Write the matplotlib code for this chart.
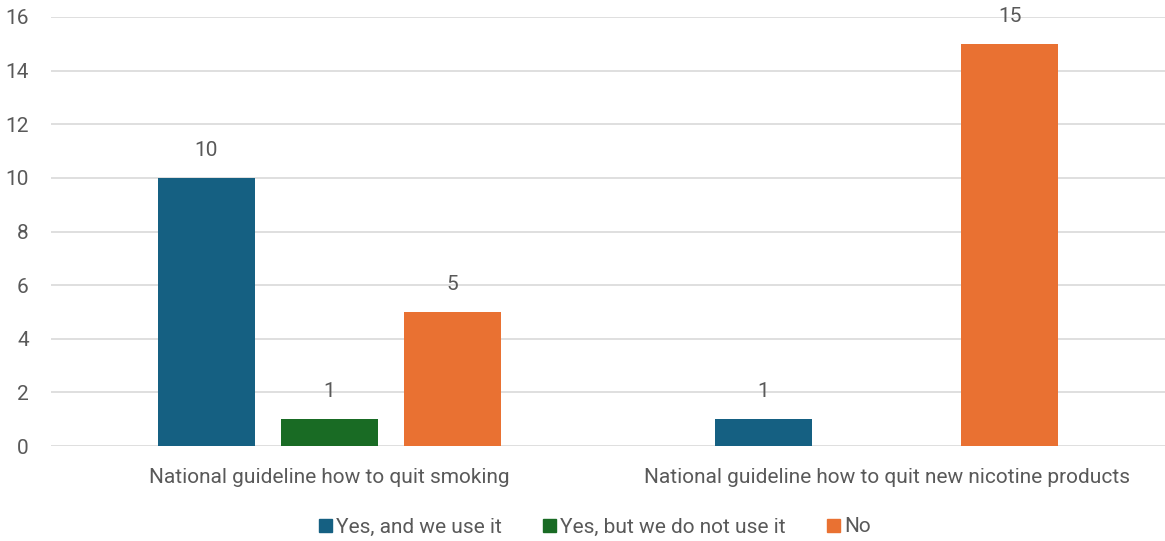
import matplotlib.pyplot as plt
from matplotlib.patches import Patch
import numpy as np

plt.rcParams['font.family'] = ['Roboto', 'DejaVu Sans']

categories = ["National guideline how to quit smoking",
              "National guideline how to quit new nicotine products"]
series = ["Yes, and we use it", "Yes, but we do not use it", "No"]
values = [
    [10, 1],   # Yes, and we use it
    [1, 0],    # Yes, but we do not use it
    [5, 15],   # No
]
colors = ["#156082", "#196B24", "#E97132"]
text_col = "#595959"
fs = 15

fig = plt.figure(figsize=(11.65, 5.41), dpi=100)
ax = fig.add_axes([51 / 1165, 95 / 541, 1114 / 1165, 429 / 541])

x = np.arange(len(categories))
width = 0.174
step = 0.221
for i, (name, vals) in enumerate(zip(series, values)):
    pos = x + (i - 1) * step
    for p, v in zip(pos, vals):
        if v == 0:
            continue
        ax.bar(p, v, width, color=colors[i], zorder=3)
        ax.annotate(str(v), (p, v), xytext=(0, 20), textcoords="offset points",
                    ha="center", va="center", fontsize=fs, color=text_col)

ax.set_xlim(-0.5, 1.5)
ax.set_ylim(0, 16)
ax.set_yticks(range(0, 17, 2))
ax.set_xticks(x)
ax.set_xticklabels(categories)
ax.yaxis.grid(True, color="#D9D9D9", linewidth=1.2, zorder=0)
for s in ax.spines.values():
    s.set_visible(False)
ax.tick_params(axis="both", length=0, labelsize=fs, colors=text_col)
ax.tick_params(axis="y", pad=16)
ax.tick_params(axis="x", pad=16)

handles = [Patch(color=c, label=n) for c, n in zip(colors, series)]
ax.legend(handles=handles, loc="center", bbox_to_anchor=(595 / 1165, 14 / 541),
          bbox_transform=fig.transFigure, ncol=3, frameon=False,
          fontsize=fs, handlelength=0.6, handleheight=0.6,
          handletextpad=0.2, columnspacing=2.0, labelcolor=text_col)

fig.savefig("out.png", dpi=100)
